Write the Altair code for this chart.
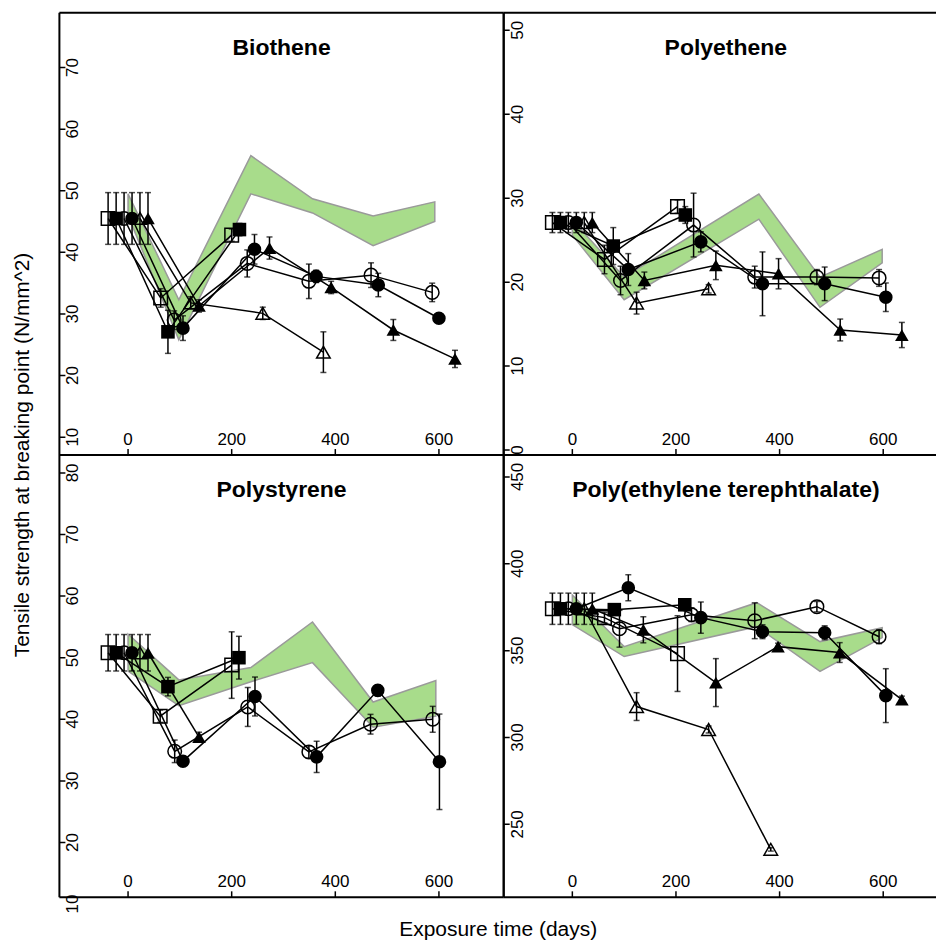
import altair as alt
import pandas as pd

FONT = "Liberation Sans"
GREEN = "#a8dc8b"
BAND_EDGE = "#9a9a9a"

# marker series, in the order they are offset around each sampling day
SERIES = ["open_square", "filled_square", "open_circle", "filled_circle", "open_triangle", "filled_triangle"]
SHAPES = ["square", "square", "circle", "circle", "triangle-up", "triangle-up"]
SIZES = [185, 185, 190, 190, 330, 330]
FILLED = {"open_square": False, "filled_square": True, "open_circle": False,
          "filled_circle": True, "open_triangle": False, "filled_triangle": True}

X_TICKS = [0, 200, 400, 600]

# ---- Biothene: series -> (days, mean, sd)
BIO_SERIES = {
    "open_square": ([-38.5, 63, 200], [45.5, 32.6, 42.8], [4.2, 1.5, 1.0]),
    "filled_square": ([-23, 77, 215], [45.5, 27.1, 43.7], [4.2, 3.5, 1.0]),
    "open_circle": ([-7.7, 89, 230, 349, 469, 587], [45.5, 29.0, 38.2, 35.3, 36.3, 33.5], [4.2, 1.5, 2.2, 2.8, 2.0, 1.5]),
    "filled_circle": ([7.7, 106, 244, 363, 483, 600], [45.5, 27.7, 40.5, 36.1, 34.7, 29.3], [4.2, 2.0, 2.4, 1.0, 1.9, 0.5]),
    "open_triangle": ([23, 121, 260, 377], [45.5, 31.8, 30.1, 23.8], [4.2, 1.0, 1.0, 3.3]),
    "filled_triangle": ([38.5, 137, 273, 392, 512, 631], [45.5, 31.3, 40.7, 34.3, 27.4, 22.7], [4.2, 1.0, 1.8, 1.0, 1.7, 1.4]),
}
BIO_BAND_DAYS = [0, 98, 237, 356, 473, 592]
BIO_BAND_LO = [46.0, 25.8, 49.5, 46.4, 41.1, 45.0]
BIO_BAND_HI = [49.5, 32.3, 55.7, 48.7, 45.9, 48.2]
BIO_Y_TICKS = [10, 20, 30, 40, 50, 60, 70]
BIO_Y_DOMAIN = [7.1, 78.9]

# ---- Polyethene
PE_SERIES = {
    "open_square": ([-38.5, 62, 203], [27.1, 22.7, 29.0], [1.2, 1.7, 0.8]),
    "filled_square": ([-23, 79, 218], [27.1, 24.3, 28.0], [1.2, 2.2, 1.0]),
    "open_circle": ([-7.7, 93, 234, 352, 472, 592], [27.1, 20.2, 26.8, 20.6, 20.6, 20.5], [1.2, 1.7, 3.8, 1.3, 0.9, 1.0]),
    "filled_circle": ([7.7, 108, 248, 367, 487, 605], [27.1, 21.5, 24.8, 19.8, 19.8, 18.2], [1.2, 1.9, 1.2, 3.8, 2.0, 1.7]),
    "open_triangle": ([23, 124, 263], [27.1, 17.5, 19.2], [1.2, 1.3, 0.5]),
    "filled_triangle": ([38.5, 139, 277, 398, 517, 636], [27.1, 20.2, 22.0, 21.0, 14.3, 13.7], [1.2, 1.0, 1.7, 1.8, 1.3, 1.5]),
}
PE_BAND_DAYS = [0, 100, 360, 478, 598]
PE_BAND_LO = [25.6, 17.9, 27.5, 17.0, 22.3]
PE_BAND_HI = [27.4, 20.6, 30.5, 20.6, 23.9]
PE_Y_TICKS = [0, 10, 20, 30, 40, 50]
PE_Y_DOMAIN = [-0.6, 52.1]

# ---- Polystyrene
PS_SERIES = {
    "open_square": ([-38.5, 62, 200], [50.8, 40.5, 48.8], [2.96, 1.0, 5.4]),
    "filled_square": ([-23, 77, 214], [50.8, 45.3, 50.0], [2.96, 1.5, 3.47]),
    "open_circle": ([-7.7, 90, 231, 349, 468, 588], [50.8, 34.8, 42.0, 34.7, 39.2, 40.0], [2.96, 1.83, 3.16, 1.0, 1.6, 2.1]),
    "filled_circle": ([7.7, 106, 245, 364, 482, 601], [50.8, 33.2, 43.7, 33.9, 44.7, 33.1], [2.96, 0.7, 3.16, 2.55, 0.9, 7.75]),
    "open_triangle": ([23], [50.8], [2.96]),
    "filled_triangle": ([38.5, 137], [50.8, 37.1], [2.96, 0.8]),
}
PS_BAND_DAYS = [0, 98, 237, 356, 473, 594]
PS_BAND_LO = [47.8, 42.2, 46.1, 49.2, 38.7, 40.5]
PS_BAND_HI = [53.8, 46.4, 48.4, 55.8, 42.8, 46.3]
PS_Y_TICKS = [10, 20, 30, 40, 50, 60, 70, 80]
PS_Y_DOMAIN = [11.1, 82.9]

# ---- Poly(ethylene terephthalate)
PET_SERIES = {
    "open_square": ([-38.5, 62, 203], [374.1, 369.0, 348.3], [9, 3, 21.8]),
    "filled_square": ([-23, 81, 217], [374.1, 373.6, 376.4], [9, 3, 2]),
    "open_circle": ([-7.7, 91, 230, 352, 472, 592], [374.1, 362.6, 370.7, 367.2, 375.3, 358.0], [9, 10.6, 4, 10.3, 3, 4]),
    "filled_circle": ([7.7, 108, 248, 367, 487, 605], [374.1, 386.2, 369.0, 360.9, 360.3, 324.1], [9, 7.5, 9, 4, 4, 15.5]),
    "open_triangle": ([23, 124, 263, 383], [374.1, 317.8, 304.6, 235.6], [9, 8, 2, 1]),
    "filled_triangle": ([38.5, 137, 277, 397, 516, 636], [374.1, 362.0, 331.6, 352.3, 348.9, 321.8], [9, 7.5, 13.8, 2, 5.7, 2]),
}
PET_BAND_DAYS = [0, 100, 356, 478, 598]
PET_BAND_LO = [365.0, 346.6, 363.8, 338.0, 357.5]
PET_BAND_HI = [382.0, 352.3, 377.6, 355.2, 363.2]
PET_Y_TICKS = [250, 300, 350, 400, 450]
PET_Y_DOMAIN = [208.0, 462.6]

W_LEFT = 445
W_RIGHT = 433
H = 443
DAY_MIN = -132.5
PX_PER_DAY = W_LEFT / 857.5
TICK_FS = 17
TITLE_FS = 23
LAB_FS = 21
FRAME_W = 2


def panel(title, series, band_days, band_lo, band_hi, y_ticks, y_domain, width, left_side, extra=None):
    x_scale = alt.Scale(domain=[DAY_MIN, DAY_MIN + width / PX_PER_DAY], nice=False, zero=False)
    y_scale = alt.Scale(domain=y_domain, nice=False, zero=False)

    rows = []
    for name, (days, means, sds) in series.items():
        for d, m, s in zip(days, means, sds):
            rows.append({"series": name, "day": d, "value": m, "lo": m - s, "hi": m + s,
                         "filled": FILLED[name]})
    df = pd.DataFrame(rows)
    band = pd.DataFrame({"day": band_days, "lo": band_lo, "hi": band_hi})

    x = alt.X("day:Q", scale=x_scale, axis=None)
    shape = alt.Shape("series:N", scale=alt.Scale(domain=SERIES, range=SHAPES), legend=None)
    size = alt.Size("series:N", scale=alt.Scale(domain=SERIES, range=SIZES), legend=None)

    band_layer = alt.Chart(band).mark_area(fill=GREEN, stroke=BAND_EDGE, strokeWidth=1.5).encode(
        x=x, y=alt.Y("lo:Q", scale=y_scale, axis=None), y2="hi:Q")

    err = alt.Chart(df).mark_rule(color="black", strokeWidth=1.5).encode(
        x=x, y=alt.Y("lo:Q", scale=y_scale, axis=None), y2="hi:Q")
    cap_lo = alt.Chart(df).mark_tick(color="black", orient="horizontal", size=6, thickness=1.5).encode(
        x=x, y=alt.Y("lo:Q", scale=y_scale, axis=None))
    cap_hi = alt.Chart(df).mark_tick(color="black", orient="horizontal", size=6, thickness=1.5).encode(
        x=x, y=alt.Y("hi:Q", scale=y_scale, axis=None))

    lines = alt.Chart(df).mark_line(color="black", strokeWidth=1.5).encode(
        x=x, y=alt.Y("value:Q", scale=y_scale, axis=None), detail="series:N", order="day:Q")

    open_pts = alt.Chart(df[~df["filled"]]).mark_point(
        filled=False, color="black", strokeWidth=1.5, opacity=1).encode(
        x=x, y=alt.Y("value:Q", scale=y_scale, axis=None), shape=shape, size=size)
    filled_pts = alt.Chart(df[df["filled"]]).mark_point(
        filled=True, color="black", opacity=1, strokeWidth=0).encode(
        x=x, y=alt.Y("value:Q", scale=y_scale, axis=None), shape=shape, size=size)

    # axes drawn inside the frame
    yt = pd.DataFrame({"t": y_ticks})
    xt = pd.DataFrame({"t": X_TICKS})
    ytick = alt.Chart(yt).mark_rule(color="black", strokeWidth=1.5, clip=True).encode(
        y=alt.Y("t:Q", scale=y_scale, axis=None), x=alt.value(0), x2=alt.value(6))
    ylab = alt.Chart(yt).mark_text(font=FONT, fontSize=TICK_FS, angle=270, align="center",
                                   baseline="middle", color="black").encode(
        y=alt.Y("t:Q", scale=y_scale, axis=None), x=alt.value(14), text=alt.Text("t:Q", format="d"))
    xtick = alt.Chart(xt).mark_rule(color="black", strokeWidth=1.5).encode(
        x=alt.X("t:Q", scale=x_scale, axis=None), y=alt.value(H - 6), y2=alt.value(H))
    xlab = alt.Chart(xt).mark_text(font=FONT, fontSize=TICK_FS, align="center",
                                   baseline="middle", color="black").encode(
        x=alt.X("t:Q", scale=x_scale, axis=None), y=alt.value(H - 15), text=alt.Text("t:Q", format="d"))

    head = alt.Chart(pd.DataFrame({"t": [title]})).mark_text(
        font=FONT, fontSize=TITLE_FS, fontWeight="bold", align="center", baseline="middle",
        color="black").encode(text="t:N", x=alt.value(222.5), y=alt.value(35))

    one = pd.DataFrame({"k": [0]})
    frame = [
        alt.Chart(one).mark_rule(color="black", strokeWidth=FRAME_W).encode(
            x=alt.value(0), x2=alt.value(width), y=alt.value(0)),
        alt.Chart(one).mark_rule(color="black", strokeWidth=FRAME_W).encode(
            x=alt.value(0), x2=alt.value(width), y=alt.value(H)),
        alt.Chart(one).mark_rule(color="black", strokeWidth=FRAME_W).encode(
            x=alt.value(0), y=alt.value(0), y2=alt.value(H)),
    ]
    if left_side:
        frame.append(alt.Chart(one).mark_rule(color="black", strokeWidth=FRAME_W).encode(
            x=alt.value(width), y=alt.value(0), y2=alt.value(H)))

    layers = [band_layer, err, cap_lo, cap_hi, lines, open_pts, filled_pts,
              ytick, ylab, xtick, xlab, head] + frame
    if extra is not None:
        layers.append(extra)
    return alt.layer(*layers).properties(width=width, height=H)


y_title = alt.Chart(pd.DataFrame({"t": ["Tensile strength at breaking point (N/mm^2)"]})).mark_text(
    font=FONT, fontSize=LAB_FS, angle=270, align="center", baseline="middle", color="black").encode(
    text="t:N", x=alt.value(-36), y=alt.value(H))
x_title = alt.Chart(pd.DataFrame({"t": ["Exposure time (days)"]})).mark_text(
    font=FONT, fontSize=LAB_FS, align="center", baseline="middle", color="black").encode(
    text="t:N", x=alt.value(439.5), y=alt.value(476))

tl = panel("Biothene", BIO_SERIES, BIO_BAND_DAYS, BIO_BAND_LO, BIO_BAND_HI,
           BIO_Y_TICKS, BIO_Y_DOMAIN, W_LEFT, True, extra=y_title)
tr = panel("Polyethene", PE_SERIES, PE_BAND_DAYS, PE_BAND_LO, PE_BAND_HI,
           PE_Y_TICKS, PE_Y_DOMAIN, W_RIGHT, False)
bl = panel("Polystyrene", PS_SERIES, PS_BAND_DAYS, PS_BAND_LO, PS_BAND_HI,
           PS_Y_TICKS, PS_Y_DOMAIN, W_LEFT, True, extra=x_title)
br = panel("Poly(ethylene terephthalate)", PET_SERIES, PET_BAND_DAYS, PET_BAND_LO, PET_BAND_HI,
           PET_Y_TICKS, PET_Y_DOMAIN, W_RIGHT, False)

chart = alt.concat(
    tl, tr, bl, br, columns=2, spacing=0, bounds="flush",
).configure_view(stroke=None).properties(
    padding={"left": 11.5, "top": 11, "right": 0, "bottom": 0}
)

chart.save("out.html", embed_options={"renderer": "svg", "actions": False})
